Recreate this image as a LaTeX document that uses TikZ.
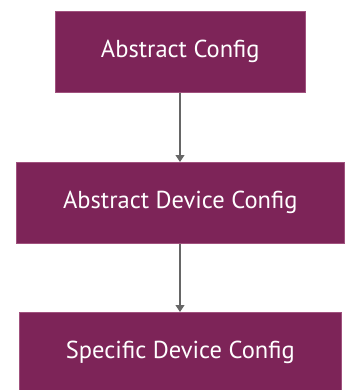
\documentclass[tikz,border=0pt]{standalone}
\usepackage{fontspec}
\setmainfont{PT Sans}
\usetikzlibrary{arrows.meta}
\definecolor{boxfill}{HTML}{7D2458}
\definecolor{boxedge}{HTML}{A0527E}
\definecolor{linkgray}{HTML}{666666}
\tikzset{
  cfgbox/.style={draw=boxedge, line width=0.6pt, fill=boxfill, text=white,
    font=\fontsize{24.5}{28}\selectfont, inner sep=0pt, anchor=north west},
  link/.style={draw=linkgray, line width=1.2pt, -{Triangle[length=7pt,width=9pt]}}
}
\begin{document}
\begin{tikzpicture}[x=1pt,y=-1pt]
\useasboundingbox (0,0) rectangle (348,390);
\clip (0,0) rectangle (348,390);
\node[cfgbox, minimum width=250pt, minimum height=81pt] (a) at (55,11) {Abstract Config};
\node[cfgbox, minimum width=328pt, minimum height=81pt] (b) at (16,162) {Abstract Device Config};
\node[cfgbox, minimum width=322pt, minimum height=81pt] (c) at (19,312) {Specific Device Config};
\draw[link] (a.south -| 180,0) -- (b.north -| 180,0);
\draw[link] (b.south -| 180,0) -- (c.north -| 180,0);
\end{tikzpicture}
\end{document}
